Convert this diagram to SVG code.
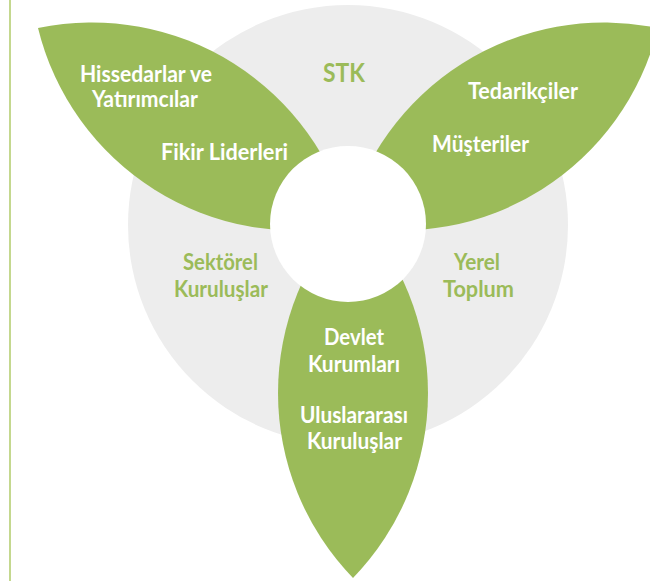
<svg xmlns="http://www.w3.org/2000/svg" width="650" height="581" viewBox="0 0 650 581">
  <defs>
    <style>
      .leaf { fill: #9bbb59; }
      .ring { fill: #ededed; }
      .hole { fill: #ffffff; }
      .t { font-family: Lato, "Open Sans", "Liberation Sans", sans-serif; font-weight: bold; font-size: 22px; text-anchor: middle; }
      .w { fill: #ffffff; }
      .g { fill: #9bbb59; }
    </style>
  </defs>
  <rect x="0" y="0" width="650" height="581" fill="#ffffff"/>
  <line x1="10" y1="0" x2="10" y2="581" stroke="#c4d88f" stroke-width="2"/>

  <g id="ring">
    <circle class="ring" cx="348" cy="225" r="220"/>
  </g>

  <g id="leaf-left">
    <path class="leaf" d="M38,28 A265.7,265.7 0 0,1 350,225 A265.7,265.7 0 0,1 38,28 Z"/>
  </g>
  <g id="leaf-right">
    <path class="leaf" d="M658,28 A265.7,265.7 0 0,0 346,225 A265.7,265.7 0 0,0 658,28 Z"/>
  </g>
  <g id="leaf-bottom">
    <path class="leaf" d="M353,208 A265.7,265.7 0 0,0 353,578 A265.7,265.7 0 0,0 353,208 Z"/>
  </g>

  <g id="center">
    <circle class="hole" cx="348" cy="224" r="78"/>
  </g>

  <g id="node-stk">
    <text class="t g" x="344" y="82" font-size="27" style="font-size:27px" textLength="42" lengthAdjust="spacingAndGlyphs">STK</text>
  </g>
  <g id="node-hissedarlar">
    <text class="t w" x="146" y="82" textLength="132" lengthAdjust="spacingAndGlyphs">Hissedarlar ve</text>
    <text class="t w" x="145" y="107" textLength="106" lengthAdjust="spacingAndGlyphs">Yatırımcılar</text>
  </g>
  <g id="node-fikir">
    <text class="t w" x="224.5" y="160" textLength="127" lengthAdjust="spacingAndGlyphs">Fikir Liderleri</text>
  </g>
  <g id="node-tedarikciler">
    <text class="t w" x="523" y="99" textLength="110" lengthAdjust="spacingAndGlyphs">Tedarikçiler</text>
  </g>
  <g id="node-musteriler">
    <text class="t w" x="480.5" y="152" textLength="97" lengthAdjust="spacingAndGlyphs">Müşteriler</text>
  </g>
  <g id="node-sektorel">
    <text class="t g" x="220.5" y="270" textLength="75" lengthAdjust="spacingAndGlyphs">Sektörel</text>
    <text class="t g" x="221" y="297" textLength="94" lengthAdjust="spacingAndGlyphs">Kuruluşlar</text>
  </g>
  <g id="node-yerel">
    <text class="t g" x="477" y="270" textLength="46" lengthAdjust="spacingAndGlyphs">Yerel</text>
    <text class="t g" x="478.5" y="297" textLength="71" lengthAdjust="spacingAndGlyphs">Toplum</text>
  </g>
  <g id="node-devlet">
    <text class="t w" x="354" y="345" textLength="60" lengthAdjust="spacingAndGlyphs">Devlet</text>
    <text class="t w" x="354" y="372" textLength="92" lengthAdjust="spacingAndGlyphs">Kurumları</text>
  </g>
  <g id="node-uluslararasi">
    <text class="t w" x="354" y="423" textLength="108" lengthAdjust="spacingAndGlyphs">Uluslararası</text>
    <text class="t w" x="354.5" y="449" textLength="95" lengthAdjust="spacingAndGlyphs">Kuruluşlar</text>
  </g>
</svg>
